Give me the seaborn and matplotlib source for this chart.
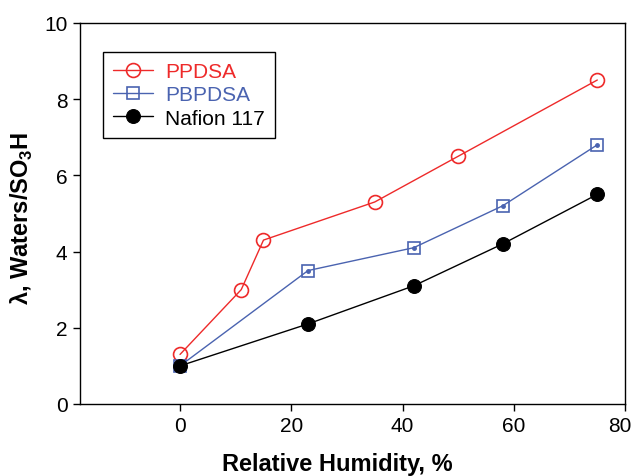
import numpy as np
import pandas as pd
import seaborn as sns
import matplotlib.pyplot as plt
import matplotlib.transforms as mtransforms

# data
ppdsa_rh = [0, 11, 15, 35, 50, 75]
ppdsa_lam = [1.3, 3.0, 4.3, 5.3, 6.5, 8.5]
pbpdsa_rh = [0, 23, 42, 58, 75]
pbpdsa_lam = [1.0, 3.5, 4.1, 5.2, 6.8]
nafion_rh = [0, 23, 42, 58, 75]
nafion_lam = [1.0, 2.1, 3.1, 4.2, 5.5]

sns.set_style("ticks", {"text.color": "black", "axes.labelcolor": "black",
                        "xtick.color": "black", "ytick.color": "black",
                        "axes.edgecolor": "black"})
plt.rcParams['font.family'] = ['Liberation Sans', 'DejaVu Sans']
plt.rcParams['mathtext.fontset'] = 'custom'
plt.rcParams['mathtext.rm'] = 'Liberation Sans:bold'
plt.rcParams['mathtext.bf'] = 'Liberation Sans:bold'

red = "#ee2a2a"
blue = "#4a63b0"

fig = plt.figure(figsize=(6.34, 4.77), dpi=100)
ax = fig.add_axes([0.126, 0.151, 0.86, 0.799])

df1 = pd.DataFrame({"rh": ppdsa_rh, "lam": ppdsa_lam})
df2 = pd.DataFrame({"rh": pbpdsa_rh, "lam": pbpdsa_lam})
df3 = pd.DataFrame({"rh": nafion_rh, "lam": nafion_lam})

sns.lineplot(data=df1, x="rh", y="lam", ax=ax, color=red, lw=1, marker="o",
             markersize=10, markerfacecolor="none", markeredgecolor=red,
             markeredgewidth=1.2, label="PPDSA")
sns.lineplot(data=df2, x="rh", y="lam", ax=ax, color=blue, lw=1, marker="s",
             markersize=8.5, markerfacecolor="none", markeredgecolor=blue,
             markeredgewidth=1.2, label="PBPDSA")
ax.plot(df2["rh"], df2["lam"], ls="none", marker="o", markersize=2.5, color=blue)
sns.lineplot(data=df3, x="rh", y="lam", ax=ax, color="black", lw=1, marker="o",
             markersize=10, markerfacecolor="black", markeredgecolor="black",
             label="Nafion 117")

ax.set_xlim(-18, 80)
ax.set_ylim(0, 10)
ax.set_xticks([0, 20, 40, 60, 80])
ax.set_yticks([0, 2, 4, 6, 8, 10])
ax.tick_params(direction="out", length=5, width=1, labelsize=15, color="black",
               labelcolor="black", top=False, right=False, pad=4)
for s in ax.spines.values():
    s.set_color("black")
    s.set_linewidth(1)

# last x tick label sits a little left of its tick, as in the reference
lbl = ax.get_xticklabels()[-1]
lbl.set_transform(lbl.get_transform() + mtransforms.ScaledTranslation(-4 / 72, 0, fig.dpi_scale_trans))

ax.set_xlabel("Relative Humidity, %", fontsize=17, fontweight="bold")
ax.xaxis.set_label_coords(0.472, -0.127)
ax.set_ylabel(r"λ, Waters/SO$_3$H", fontsize=17, fontweight="bold")
ax.yaxis.set_label_coords(-0.083, 0.49)

leg = ax.legend(loc="upper left", bbox_to_anchor=(0.042, 0.924), fontsize=15,
                frameon=True, fancybox=False, framealpha=1, edgecolor="black",
                handlelength=1.9, handletextpad=0.6, borderpad=0.5, labelspacing=0.2,
                borderaxespad=0)
leg.get_frame().set_linewidth(1)
for t, c in zip(leg.get_texts(), [red, blue, "black"]):
    t.set_color(c)

fig.savefig("out.png", dpi=100)
